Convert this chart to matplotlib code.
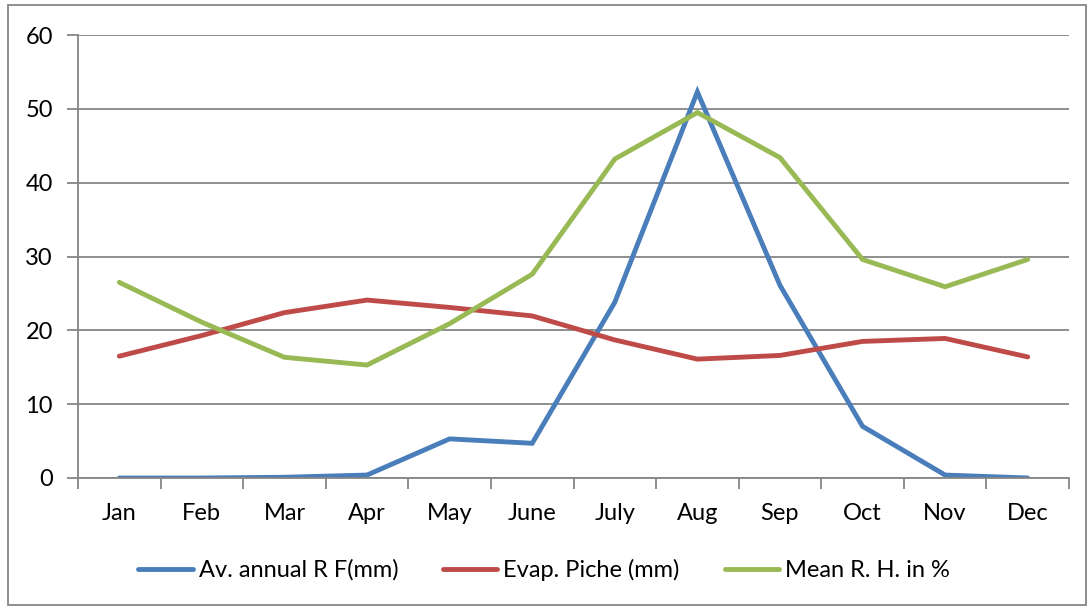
import matplotlib.pyplot as plt
from matplotlib.patches import Rectangle

months = ["Jan", "Feb", "Mar", "Apr", "May", "June", "July", "Aug", "Sep", "Oct", "Nov", "Dec"]
rainfall = [0.0, 0.0, 0.1, 0.4, 5.3, 4.7, 23.8, 52.3, 26.1, 7.0, 0.4, 0.0]
evaporation = [16.5, 19.3, 22.4, 24.1, 23.1, 21.95, 18.7, 16.1, 16.6, 18.5, 18.9, 16.4]
humidity = [26.5, 21.1, 16.35, 15.3, 20.9, 27.6, 43.2, 49.5, 43.4, 29.6, 25.9, 29.6]

series = [
    ("Av. annual R F(mm)", rainfall, "#4A7EBB"),
    ("Evap. Piche (mm)", evaporation, "#BE4B48"),
    ("Mean R. H. in %", humidity, "#98B954"),
]

plt.rcParams["font.family"] = ["Lato", "DejaVu Sans"]
grid_col = "#868686"
fs = 17

fig = plt.figure(figsize=(10.88, 6.07), dpi=100)
ax = fig.add_axes([78 / 1088, 1 - 478 / 607, (1069 - 78) / 1088, (478 - 35) / 607])

x = list(range(len(months)))
for label, vals, col in series:
    ax.plot(x, vals, color=col, lw=3.5, label=label, solid_capstyle="round", solid_joinstyle="miter")

ax.set_xlim(-0.5, len(months) - 0.5)
ax.set_ylim(0, 60)
ax.set_yticks(range(0, 61, 10))
ax.set_xticks(x)
ax.set_xticklabels(months)
ax.set_xticks([i - 0.5 for i in range(len(months) + 1)], minor=True)
ax.tick_params(axis="x", which="major", length=0, pad=18, labelsize=fs)
ax.tick_params(axis="x", which="minor", length=8, width=1.3, color=grid_col)
ax.tick_params(axis="y", length=8, width=1.3, color=grid_col, pad=10, labelsize=fs)

ax.grid(axis="y", color=grid_col, lw=1.3)
ax.set_axisbelow(True)
for side in ["top", "right"]:
    ax.spines[side].set_visible(False)
for side in ["left", "bottom"]:
    ax.spines[side].set_color(grid_col)
    ax.spines[side].set_linewidth(1.3)

fig.legend(loc="center", bbox_to_anchor=(0.5, 1 - 570 / 607), ncol=3, frameon=False,
           fontsize=fs, handlelength=2.3, handletextpad=0.25, columnspacing=1.9)

# chart frame
fig.patches.append(Rectangle((8 / 1088, 2 / 607), 1 - 10 / 1088, 1 - 7 / 607,
                             transform=fig.transFigure, fill=False, edgecolor=grid_col, lw=1.3))

fig.savefig("out.png", dpi=100)
